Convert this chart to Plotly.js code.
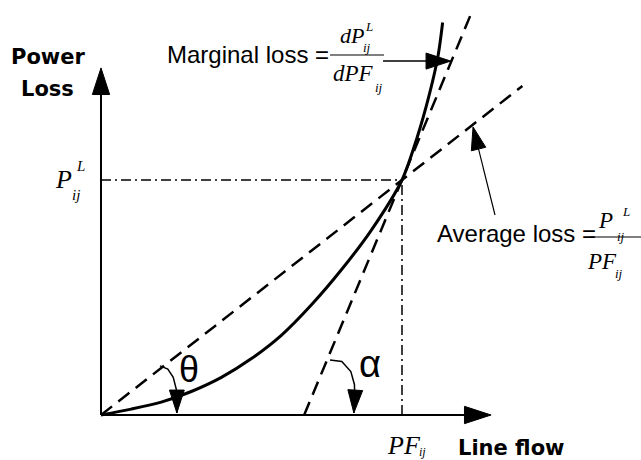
<!DOCTYPE html>
<html>
<head>
<meta charset="utf-8">
<script src="https://cdn.plot.ly/plotly-3.0.1.min.js"></script>
<style>
  html, body { margin: 0; padding: 0; background: #fff; }
  #chart { width: 641px; height: 460px; }
</style>
</head>
<body>
<div id="chart"></div>
<script>
// ---- data (units: PF_ij = 1 on x, P_ij^L = 1 on y) ----
const curveX = [0, 0.1, 0.2, 0.3, 0.4, 0.5, 0.6, 0.7, 0.8, 0.9, 1.0, 1.05, 1.09, 1.12, 1.135];
const curveY = [0, 0.025, 0.055, 0.1, 0.16, 0.24, 0.34, 0.47, 0.62, 0.79, 1.0, 1.18, 1.36, 1.53, 1.67];
const flowPF = 1;
const lossPL = 1;
const marginalX = [0.675, 1.232];
const marginalY = [0, 1.715];
const averageX = [0, 1.40];
const averageY = [0, 1.40];
const xAxisX = [0, 1.296];
const xAxisY = [0, 0];
const yAxisX = [0, 0];
const yAxisY = [0, 1.477];
const thetaArcX = [0.196, 0.222, 0.240, 0.250, 0.252, 0.252];
const thetaArcY = [0.209, 0.195, 0.160, 0.110, 0.060, 0.009];
const alphaArcX = [0.761, 0.800, 0.830, 0.842, 0.843, 0.840];
const alphaArcY = [0.234, 0.228, 0.185, 0.130, 0.070, 0.009];
const marginalArrowX = [0.937, 1.162];
const marginalArrowY = [1.506, 1.506];
const averageArrowX = [1.309, 1.236];
const averageArrowY = [0.851, 1.226];

// ---- pixel frame ----
const W = 641, H = 460;
const X0 = 101, SX = 301, Y0 = 415, SY = 235;
const xr = [(0 - X0) / SX, (W - X0) / SX];
const yr = [(Y0 - H) / SY, Y0 / SY];

function line(x, y, width, dash, headSize) {
  const t = {
    x: x, y: y, type: 'scatter', hoverinfo: 'skip',
    mode: headSize ? 'lines+markers' : 'lines',
    line: { color: '#000', width: width, dash: dash || 'solid' }
  };
  if (headSize) {
    t.marker = {
      symbol: 'arrow', angleref: 'previous', color: '#000', opacity: 1,
      size: x.map((_, i) => i === x.length - 1 ? headSize : 0),
      line: { width: 1, color: '#000' }
    };
  }
  return t;
}

const traces = [
  line(xAxisX, xAxisY, 2, 'solid', 28),
  line(yAxisX, yAxisY, 2, 'solid', 28),
  line([0, flowPF], [lossPL, lossPL], 1.5, '10px,4px,2px,4px'),
  line([flowPF, flowPF], [0, lossPL], 1.5, '10px,4px,2px,4px'),
  line(averageX, averageY, 2.5, '14px,8px'),
  line(marginalX, marginalY, 2.5, '14px,8px'),
  Object.assign(line(curveX, curveY, 3), { line: { color: '#000', width: 3, shape: 'spline', smoothing: 0.8 } }),
  line(thetaArcX, thetaArcY, 1.5, 'solid', 24),
  line(alphaArcX, alphaArcY, 1.5, 'solid', 24),
  line(marginalArrowX, marginalArrowY, 1.5, 'solid', 26),
  line(averageArrowX, averageArrowY, 1.2, 'solid', 24)
];

const SANS = 'Liberation Sans, Arial, sans-serif';
const BOLD = 'DejaVu Sans, sans-serif';
const SERIF = 'Liberation Serif, Times New Roman, serif';

function txt(px, py, text, size, family, anchor) {
  return {
    xref: 'paper', yref: 'paper', x: px / W, y: 1 - py / H,
    xanchor: anchor || 'left', yanchor: 'middle', showarrow: false,
    text: text, font: { family: family, size: size, color: '#000' }
  };
}

const annotations = [
  txt(48, 57, '<b>Power</b>', 21, BOLD, 'center'),
  txt(47, 89, '<b>Loss</b>', 21, BOLD, 'center'),
  txt(511, 448, '<b>Line flow</b>', 21, BOLD, 'center'),
  txt(165, 55, 'Marginal loss =', 24, SANS),
  txt(338, 35, '<i>dP</i>', 22, SERIF),
  txt(363, 26, '<i>L</i>', 13, SERIF),
  txt(361, 48, '<i>ij</i>', 13, SERIF),
  txt(331, 74, '<i>dPF</i>', 23, SERIF),
  txt(373, 87, '<i>ij</i>', 13, SERIF),
  txt(435, 234, 'Average loss =', 24, SANS),
  txt(596, 220, '<i>P</i>', 23, SERIF),
  txt(620, 211, '<i>L</i>', 13, SERIF),
  txt(615, 236, '<i>ij</i>', 13, SERIF),
  txt(585, 261, '<i>PF</i>', 23, SERIF),
  txt(613, 273, '<i>ij</i>', 13, SERIF),
  txt(53, 179, '<i>P</i>', 26, SERIF),
  txt(74, 166, '<i>L</i>', 15, SERIF),
  txt(70, 195, '<i>ij</i>', 15, SERIF),
  txt(385, 445, '<i>PF</i>', 26, SERIF),
  txt(417, 452, '<i>ij</i>', 12, SERIF),
  txt(189, 369, 'θ', 36, SANS, 'center'),
  txt(370, 364, 'α', 38, SANS, 'center')
];

const shapes = [
  { type: 'line', xref: 'paper', yref: 'paper', x0: 330 / W, x1: 384 / W, y0: 1 - 55 / H, y1: 1 - 55 / H, line: { color: '#000', width: 1.2 } },
  { type: 'line', xref: 'paper', yref: 'paper', x0: 590 / W, x1: 641 / W, y0: 1 - 237 / H, y1: 1 - 237 / H, line: { color: '#000', width: 1.2 } }
];

const hidden = { visible: false, showgrid: false, zeroline: false, fixedrange: true };

const layout = {
  width: W, height: H,
  margin: { l: 0, r: 0, t: 0, b: 0, pad: 0 },
  paper_bgcolor: '#fff', plot_bgcolor: '#fff',
  showlegend: false,
  xaxis: Object.assign({}, hidden, { range: xr }),
  yaxis: Object.assign({}, hidden, { range: yr }),
  annotations: annotations,
  shapes: shapes
};

Plotly.newPlot('chart', traces, layout, { staticPlot: true, displayModeBar: false });
</script>
</body>
</html>
